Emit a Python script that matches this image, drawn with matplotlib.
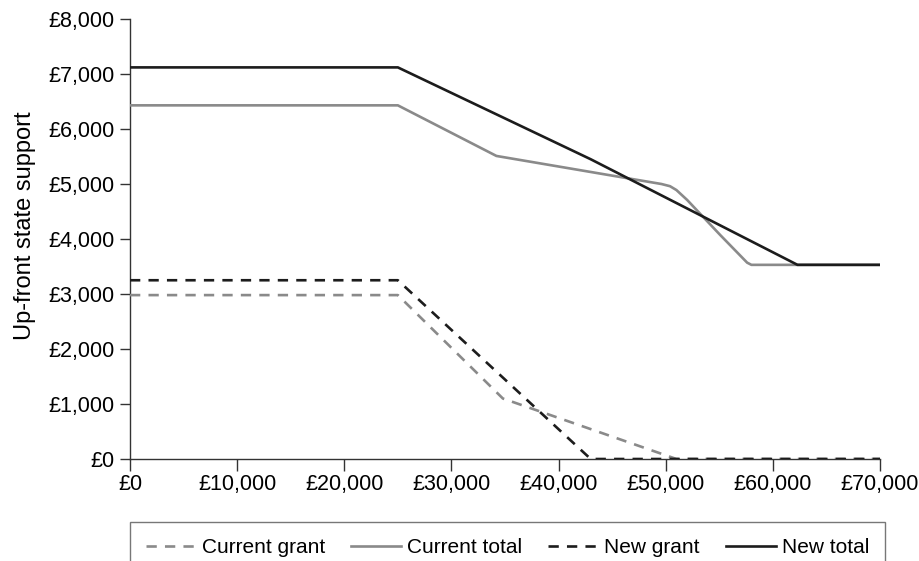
import numpy as np
import matplotlib
matplotlib.use("Agg")
import matplotlib.pyplot as plt
from matplotlib.ticker import FuncFormatter

plt.rcParams['font.family'] = ['Liberation Sans', 'DejaVu Sans']

# income (£) and support (£)
cur_grant_x = [0, 25000, 34800, 51000, 70000]
cur_grant_y = [2980, 2980, 1100, 0, 0]

cur_total_x = [0, 25000, 34200, 49600, 50400, 51000, 52000, 53500,
               55100, 56700, 57600, 58000, 70000]
cur_total_y = [6430, 6430, 5510, 5000, 4960, 4890, 4710, 4400,
               4070, 3750, 3570, 3530, 3530]

new_grant_x = [0, 25000, 43000, 70000]
new_grant_y = [3250, 3250, 0, 0]

new_total_x = [0, 25000, 43000, 62300, 70000]
new_total_y = [7120, 7120, 5450, 3530, 3530]

x_ticks = [0, 10000, 20000, 30000, 40000, 50000, 60000, 70000]
y_ticks = [0, 1000, 2000, 3000, 4000, 5000, 6000, 7000, 8000]

grey = '#8a8a8a'
dark = '#1c1c1c'
dash = (3.9, 3.1)

fig = plt.figure(figsize=(9.2, 5.61), dpi=100)
ax = fig.add_axes([130/920, 1 - 459/561, 750/920, 440/561])

ax.plot(cur_grant_x, cur_grant_y, color=grey, lw=1.9, dashes=dash,
        label='Current grant', zorder=3)
ax.plot(cur_total_x, cur_total_y, color=grey, lw=1.9, label='Current total', zorder=3)
ax.plot(new_grant_x, new_grant_y, color=dark, lw=1.9, dashes=dash,
        label='New grant', zorder=4)
ax.plot(new_total_x, new_total_y, color=dark, lw=1.9, label='New total', zorder=4)

ax.set_xlim(0, 70000)
ax.set_ylim(0, 8000)
ax.set_xticks(x_ticks)
ax.set_yticks(y_ticks)
fmt = FuncFormatter(lambda v, p: '£{:,.0f}'.format(v))
ax.xaxis.set_major_formatter(fmt)
ax.yaxis.set_major_formatter(fmt)

for s in ['top', 'right']:
    ax.spines[s].set_visible(False)
for s in ['left', 'bottom']:
    ax.spines[s].set_color('#333333')
    ax.spines[s].set_linewidth(1.0)
    ax.spines[s].set_zorder(2)

ax.tick_params(axis='y', direction='out', length=7, width=1.0, color='#333333',
               labelsize=15.5, pad=4)
ax.tick_params(axis='x', direction='out', length=8.5, width=1.0, color='#333333',
               labelsize=15.5, pad=2.5)
ax.set_ylabel('Up-front state support', fontsize=17)
ax.yaxis.set_label_coords(-0.125, 0.53)

leg = fig.legend(loc='upper left', bbox_to_anchor=(130/920, 1 - 523/561, 755/920, 0.001),
                 mode='expand', ncol=4, fontsize=15, frameon=True, fancybox=False,
                 handlelength=2.4, handletextpad=0.3, borderpad=0.75,
                 columnspacing=1.2, borderaxespad=0)
leg.get_frame().set_edgecolor('#555555')
leg.get_frame().set_linewidth(1.0)

fig.savefig('out.png', dpi=100)
